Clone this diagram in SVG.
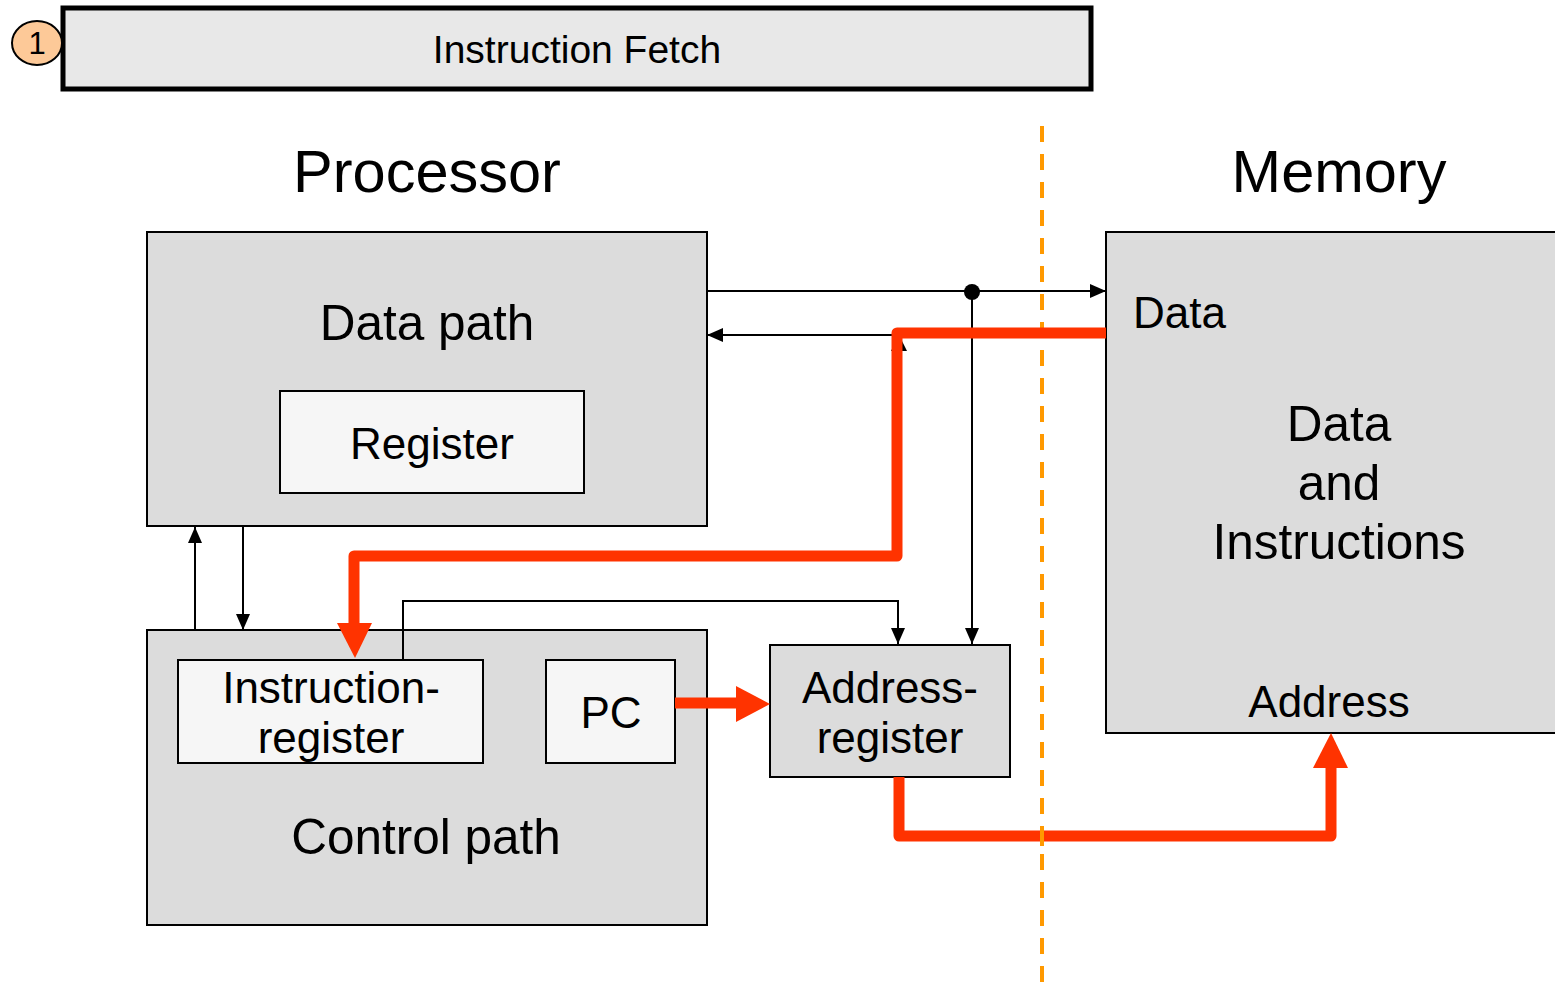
<svg xmlns="http://www.w3.org/2000/svg" width="1555" height="995" viewBox="0 0 1555 995">
  <style>
    text { font-family: "Liberation Sans", Arial, sans-serif; fill: #000; text-anchor: middle; }
    .box { fill: #dcdcdc; stroke: #000; stroke-width: 2; }
    .reg { fill: #f6f6f6; stroke: #000; stroke-width: 2; }
    .wire { fill: none; stroke: #000; stroke-width: 2; }
    .bus { fill: none; stroke: #ff3300; stroke-width: 11; stroke-linejoin: round; stroke-linecap: butt; }
    .head { fill: #ff3300; }
    .t44 { font-size: 44px; }
    .t49 { font-size: 49.5px; }
    .t59 { font-size: 59.5px; }
  </style>
  <defs>
    <marker id="arr" viewBox="0 0 16 14" refX="16" refY="7" markerWidth="16" markerHeight="14" markerUnits="userSpaceOnUse" orient="auto">
      <path d="M0,0 L16,7 L0,14 Z" fill="#000"/>
    </marker>
  </defs>

  <!-- phase header -->
  <g id="phase">
    <rect x="63" y="8" width="1028" height="81" fill="#e8e8e8" stroke="#000" stroke-width="5"/>
    <text x="577" y="63" font-size="39">Instruction Fetch</text>
    <ellipse cx="37" cy="43" rx="25" ry="22" fill="#fdc998" stroke="#000" stroke-width="2"/>
    <text x="37" y="54" font-size="31">1</text>
  </g>

  <!-- section titles -->
  <g id="titles">
    <text class="t59" x="427" y="192">Processor</text>
    <text class="t59" x="1339" y="192">Memory</text>
  </g>

  <!-- processor / memory boundary -->
  <g id="boundary">
    <line x1="1042" y1="126" x2="1042" y2="985" stroke="#ff9900" stroke-width="4" stroke-dasharray="16 12"/>
  </g>

  <g id="datapath">
    <rect class="box" x="147" y="232" width="560" height="294"/>
    <text class="t49" x="427" y="340">Data path</text>
  </g>
  <g id="register">
    <rect class="reg" x="280" y="391" width="304" height="102"/>
    <text class="t44" x="432" y="459">Register</text>
  </g>

  <g id="controlpath">
    <rect class="box" x="147" y="630" width="560" height="295"/>
    <text class="t49" x="426" y="854">Control path</text>
  </g>
  <g id="instruction-register">
    <rect class="reg" x="178" y="660" width="305" height="103"/>
    <text class="t44" x="331" y="703">Instruction-</text>
    <text class="t44" x="331" y="753">register</text>
  </g>
  <g id="pc">
    <rect class="reg" x="546" y="660" width="129" height="103"/>
    <text class="t44" x="611" y="728">PC</text>
  </g>

  <g id="address-register">
    <rect class="box" x="770" y="645" width="240" height="132"/>
    <text class="t44" x="890" y="703">Address-</text>
    <text class="t44" x="890" y="753">register</text>
  </g>

  <g id="memory">
    <rect class="box" x="1106" y="232" width="460" height="501"/>
    <text class="t44" x="1133" y="328" style="text-anchor:start">Data</text>
    <text class="t49" x="1339" y="441">Data</text>
    <text class="t49" x="1339" y="500">and</text>
    <text class="t49" x="1339" y="559">Instructions</text>
    <text class="t44" x="1329" y="717">Address</text>
  </g>

  <g id="connectors">
    <!-- data bus: data path to memory, tapped to address register -->
    <line class="wire" x1="707" y1="291" x2="1106" y2="291" marker-end="url(#arr)"/>
    <circle cx="972" cy="292" r="8" fill="#000"/>
    <line class="wire" x1="972" y1="292" x2="972" y2="644" marker-end="url(#arr)"/>
    <!-- memory data back into data path -->
    <line class="wire" x1="895" y1="335" x2="707" y2="335" marker-end="url(#arr)"/>
    <path d="M899,335 L891,351 L907,351 Z" fill="#000"/>
    <!-- data path <-> control path -->
    <line class="wire" x1="195" y1="630" x2="195" y2="527" marker-end="url(#arr)"/>
    <line class="wire" x1="243" y1="526" x2="243" y2="630" marker-end="url(#arr)"/>
    <!-- instruction register to address register -->
    <polyline class="wire" points="403,660 403,601 898,601 898,644" marker-end="url(#arr)"/>

    <!-- instruction word from memory into instruction register -->
    <polyline class="bus" points="1106,333 897,333 897,556 354,556 354,624"/>
    <path class="head" d="M337,623 L372,623 L355,658 Z"/>
    <!-- PC to address register -->
    <line class="bus" x1="675" y1="703" x2="738" y2="703"/>
    <path class="head" d="M736,686 L770,704 L736,722 Z"/>
    <!-- address register to memory address -->
    <polyline class="bus" points="899,777 899,836 1331,836 1331,767"/>
    <path class="head" d="M1313,768 L1348,768 L1331,733 Z"/>
    <line x1="1042" y1="826" x2="1042" y2="846" stroke="#ff9900" stroke-width="4"/>
  </g>
</svg>
